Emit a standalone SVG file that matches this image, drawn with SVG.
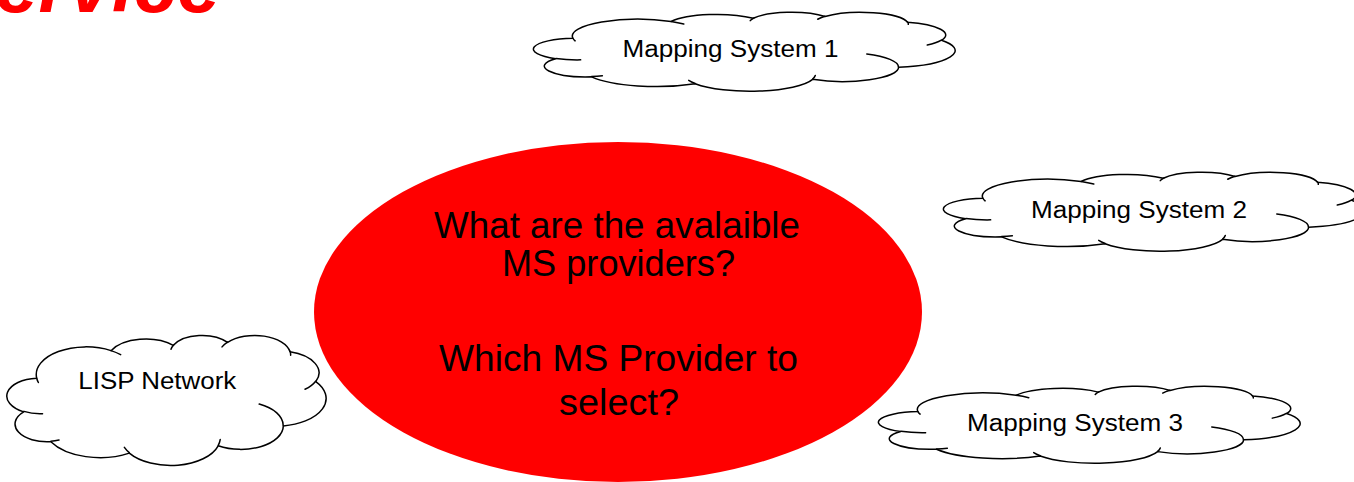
<svg xmlns="http://www.w3.org/2000/svg" xmlns:xlink="http://www.w3.org/1999/xlink" width="1354" height="482" viewBox="0 0 1354 482">
  <style>
    .cloud-body { fill: #ffffff; stroke: #000000; stroke-width: 1.5; stroke-linejoin: round; }
    .cloud-hook { fill: none; stroke: #000000; stroke-width: 1.5; stroke-linecap: round; }
    .label { font-family: "Liberation Sans", Arial, sans-serif; font-size: 23px; fill: #000000; }
    .question { font-family: "Liberation Sans", Arial, sans-serif; font-size: 36px; fill: #000000; }
    .title { font-family: "Liberation Sans", Arial, sans-serif; font-size: 78px; font-weight: bold; font-style: italic; fill: #ff0000; }
  </style>
  <defs>
    <!-- cloud outline in a 100 x 100 box, scaled per node; strokes keep their width -->
    <g id="cloudShape">
      <path class="cloud-body" vector-effect="non-scaling-stroke"
        d="M9.03,33.26
           A15.63,21.27 0 0 1 32.41,12.04
           A12.34,16.82 0 0 1 51.98,7.95
           A10.10,13.76 0 0 1 69.06,5.74
           A11.24,15.27 0 0 1 88.70,12.91
           A12.34,16.84 0 0 1 96.80,35.79
           A15.68,21.34 0 0 1 86.58,69.91
           A13.39,18.21 0 0 1 66.10,85.22
           A15.63,21.33 0 0 1 38.15,90.89
           A17.87,24.41 0 0 1 13.47,82.08
           A10.09,13.70 0 0 1 4.93,59.12
           A10.06,13.76 0 0 1 9.03,33.26 Z"/>
      <path class="cloud-hook" vector-effect="non-scaling-stroke"
        d="M10.86,60.59 A10.06,13.76 0 0 1 5.00,58.75
           M16.04,80.78 A10.09,13.70 0 0 1 13.47,81.67
           M38.14,90.49 A15.63,21.33 0 0 1 36.60,86.46
           M66.73,80.44 A15.63,21.33 0 0 1 66.11,84.86
           M79.00,53.13 A13.39,18.21 0 0 1 86.53,69.65
           M96.75,35.54 A12.34,16.84 0 0 1 93.40,41.74
           M88.71,12.56 A11.24,15.27 0 0 1 88.88,15.60
           M67.31,9.15 A11.24,15.27 0 0 1 69.03,5.42
           M51.25,10.93 A10.10,13.76 0 0 1 52.08,7.71
           M32.41,12.02 A15.63,21.27 0 0 1 35.42,15.14
           M9.55,36.55 A15.63,21.27 0 0 1 9.03,33.26"/>
    </g>
  </defs>

  <!-- slide title, mostly above the visible area -->
  <text class="title" x="-5" y="12">ervice</text>

  <!-- central question bubble -->
  <g id="questions">
    <ellipse cx="618" cy="312" rx="304" ry="170" fill="#ff0000"/>
    <text class="question" x="434" y="237.5" textLength="366" lengthAdjust="spacingAndGlyphs">What are the avalaible</text>
    <text class="question" x="502" y="276" textLength="233" lengthAdjust="spacingAndGlyphs">MS providers?</text>
    <text class="question" x="439" y="371" textLength="359" lengthAdjust="spacingAndGlyphs">Which MS Provider to</text>
    <text class="question" x="559" y="415" textLength="120" lengthAdjust="spacingAndGlyphs">select?</text>
  </g>

  <g id="mapping-system-1">
    <use xlink:href="#cloudShape" transform="translate(535 12) scale(4.2 0.79)"/>
    <text class="label" x="622.5" y="57.3" textLength="216" lengthAdjust="spacingAndGlyphs">Mapping System 1</text>
  </g>

  <g id="mapping-system-2">
    <use xlink:href="#cloudShape" transform="translate(945 172) scale(4.2 0.79)"/>
    <text class="label" x="1031" y="218" textLength="216" lengthAdjust="spacingAndGlyphs">Mapping System 2</text>
  </g>

  <g id="mapping-system-3">
    <use xlink:href="#cloudShape" transform="translate(880 386) scale(4.2 0.77)"/>
    <text class="label" x="967" y="431" textLength="216" lengthAdjust="spacingAndGlyphs">Mapping System 3</text>
  </g>

  <g id="lisp-network">
    <use xlink:href="#cloudShape" transform="translate(8 335) scale(3.18 1.30)"/>
    <text class="label" x="78.3" y="389.3" textLength="158" lengthAdjust="spacingAndGlyphs">LISP Network</text>
  </g>

  <g id="connectors"/>
</svg>
